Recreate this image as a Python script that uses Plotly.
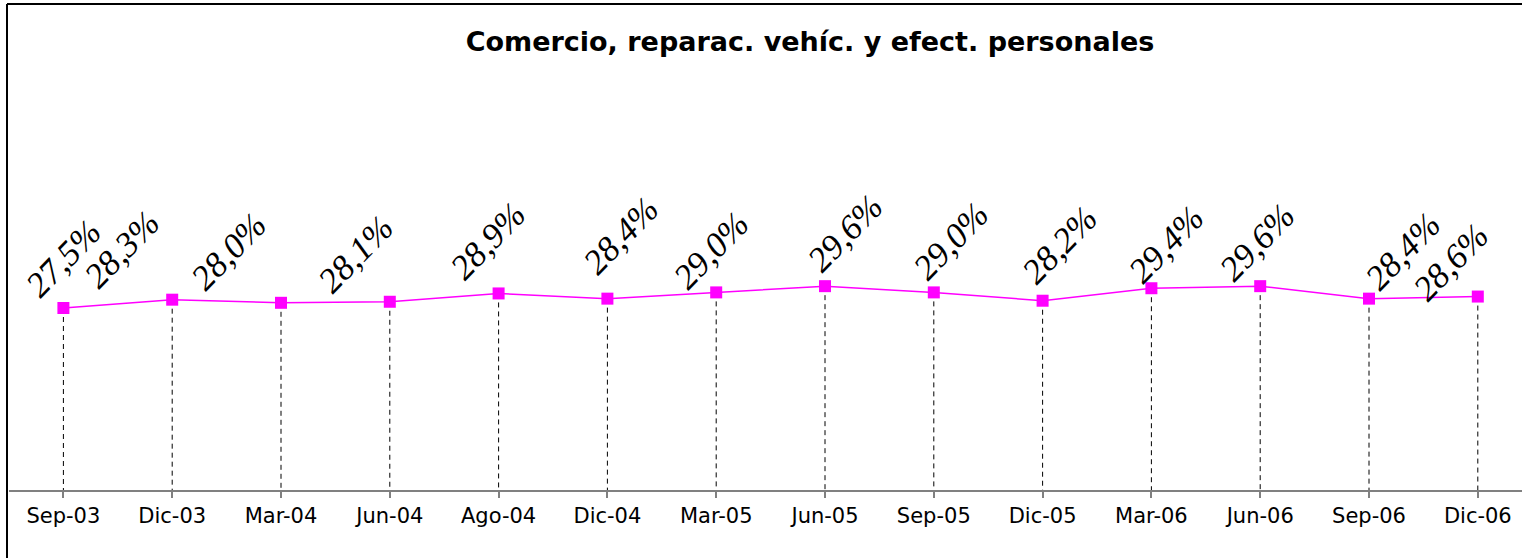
import plotly.graph_objects as go

categories = ["Sep-03", "Dic-03", "Mar-04", "Jun-04", "Ago-04", "Dic-04", "Mar-05",
              "Jun-05", "Sep-05", "Dic-05", "Mar-06", "Jun-06", "Sep-06", "Dic-06"]
values = [27.5, 28.3, 28.0, 28.1, 28.9, 28.4, 29.0, 29.6, 29.0, 28.2, 29.4, 29.6, 28.4, 28.6]
labels = ["27,5%", "28,3%", "28,0%", "28,1%", "28,9%", "28,4%", "29,0%",
          "29,6%", "29,0%", "28,2%", "29,4%", "29,6%", "28,4%", "28,6%"]
title_text = "Comercio, reparac. vehíc. y efect. personales"

# label pixel offsets (style / placement only)
label_dx = [0, -50, -52, -34, -11, 14, -5, 20, 17, 17, 15, -3, 34, -27]
label_dy = [50, 50, 51, 47, 52, 63, 42, 53, 51, 55, 44, 44, 47, 34]

W, H = 1522, 558
ML, MR, MT, MB = 9, 0, 74, 68
Y_MIN, Y_MAX = 10, 50
n = len(categories)
xs = list(range(n))
span = (W - ML - MR) / 108.8
PW, PH = W - ML - MR, H - MT - MB

fig = go.Figure()

# dashed drop lines
dx, dy = [], []
for i, v in zip(xs, values):
    dx += [i, i, None]
    dy += [v, Y_MIN, None]
fig.add_trace(go.Scatter(x=dx, y=dy, mode="lines",
                         line=dict(color="black", width=1, dash="5px,4px"),
                         hoverinfo="skip", showlegend=False))

fig.add_trace(go.Scatter(x=xs, y=values, mode="lines+markers",
                         line=dict(color="#FF00FF", width=1.5),
                         marker=dict(symbol="square", size=12, color="#FF00FF"),
                         showlegend=False))

for i, (v, t) in enumerate(zip(values, labels)):
    fig.add_annotation(x=i, y=v, xref="x", yref="y", text=t, showarrow=False,
                       textangle=-46, xshift=label_dx[i], yshift=label_dy[i],
                       xanchor="center", yanchor="middle",
                       font=dict(family="Liberation Serif", size=35, color="black", style="italic"))

fig.update_layout(
    width=W, height=H,
    margin=dict(l=ML, r=MR, t=MT, b=MB),
    paper_bgcolor="white", plot_bgcolor="white",
    title=dict(text="<b>" + title_text + "</b>", x=810 / W, xref="container", xanchor="center",
               y=1 - 42 / H, yref="container", yanchor="middle",
               font=dict(family="DejaVu Sans", size=27, color="black")),
    xaxis=dict(range=[-0.5, -0.5 + span], tickmode="array", tickvals=xs, ticktext=categories,
               tickson="boundaries", ticks="outside", ticklen=6, tickcolor="#808080", tickwidth=1.5,
               showline=True, linecolor="#808080", linewidth=2, showgrid=False, zeroline=False,
               tickfont=dict(family="DejaVu Sans", size=21, color="black")),
    yaxis=dict(range=[Y_MIN, Y_MAX], visible=False, showgrid=False, zeroline=False),
    shapes=[
        dict(type="line", xref="paper", yref="paper",
             x0=(7 - ML) / PW, x1=(7 - ML) / PW,
             y0=(H - MB - 4) / PH, y1=-MB / PH,
             line=dict(color="black", width=2)),
        dict(type="line", xref="paper", yref="paper",
             x0=(7 - ML) / PW, x1=1.0,
             y0=(H - MB - 4) / PH, y1=(H - MB - 4) / PH,
             line=dict(color="black", width=2)),
    ],
)

fig.write_html("out.html", config={"displayModeBar": False},
               post_script="document.body.style.margin='0px';document.body.style.overflow='hidden';")
